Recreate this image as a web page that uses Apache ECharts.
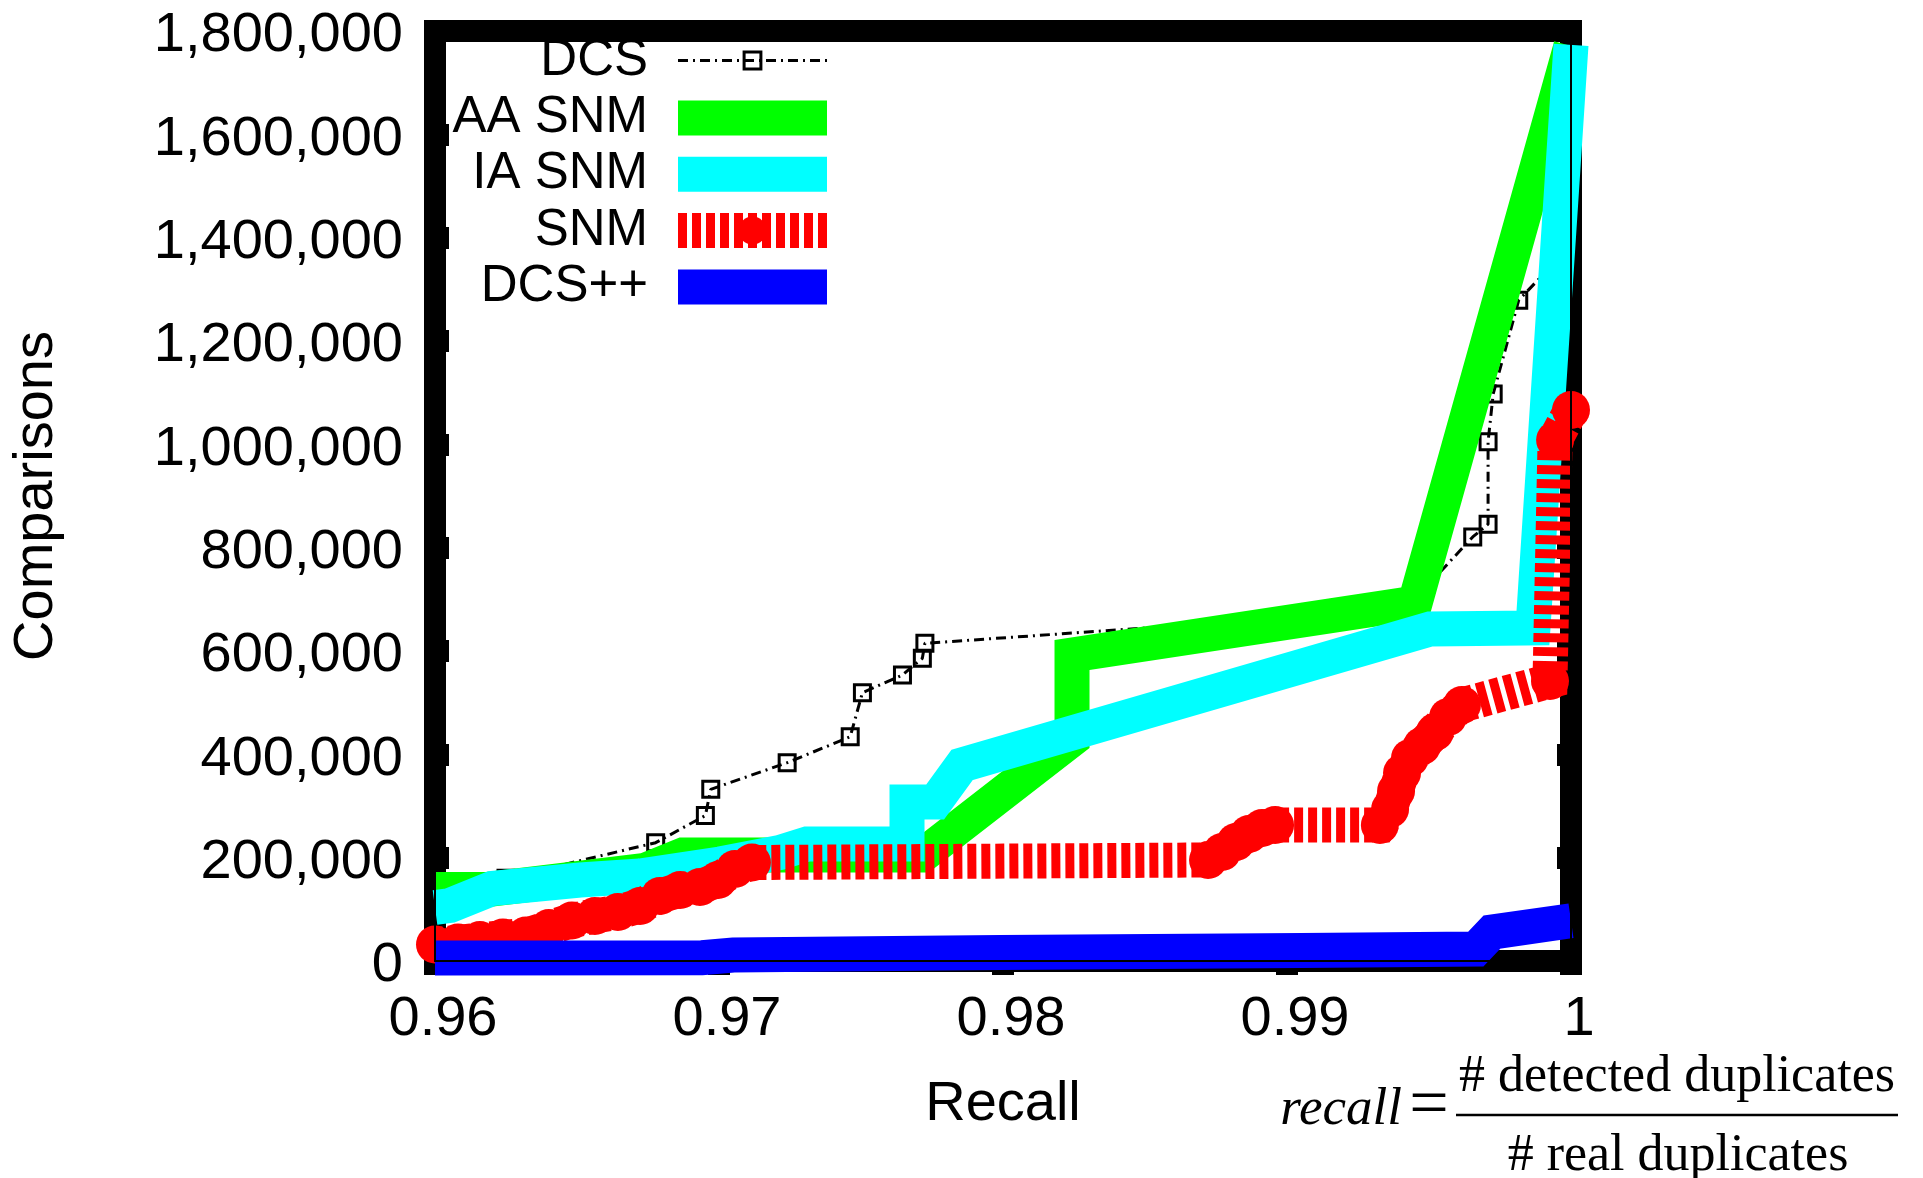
<!DOCTYPE html>
<html>
<head>
<meta charset="utf-8">
<title>Comparisons vs. Recall</title>
<script src="https://cdn.jsdelivr.net/npm/echarts@6/dist/echarts.min.js"></script>
<style>
  html, body { margin: 0; padding: 0; background: #fff; }
  #chart { width: 1923px; height: 1178px; }
</style>
</head>
<body>
<div id="chart"></div>
<script>
// Axis ticks
const recallTicks = [0.96, 0.97, 0.98, 0.99, 1];
const comparisonTicks = [0, 200000, 400000, 600000, 800000, 1000000, 1200000, 1400000, 1600000, 1800000];

// Series values: [recall, comparisons]
const dcs = [
  [0.96, 140000], [0.9625, 160000], [0.96777, 229000], [0.96952, 281600],
  [0.96971, 332300], [0.97240, 383800], [0.97462, 434100], [0.97505, 519300],
  [0.97646, 553600], [0.97716, 585900], [0.97725, 614900], [0.99415, 679400],
  [0.99654, 820700], [0.99708, 845400], [0.99708, 1004900], [0.99726, 1097400],
  [0.99816, 1279000], [0.99944, 1352900], [1.0, 1780000]
];
const aaSnm = [
  [0.96, 138400], [0.96187, 138400], [0.96739, 175200], [0.96873, 205200],
  [0.97718, 205200], [0.98243, 428900], [0.98243, 592300], [0.99451, 692900],
  [1.0, 1771000]
];
const iaSnm = [
  [0.96, 103500], [0.96053, 107400], [0.96201, 140300], [0.96511, 156800],
  [0.96722, 164500], [0.97004, 187700], [0.97215, 210000], [0.97310, 226400],
  [0.97662, 226400], [0.97662, 307700], [0.97761, 307700], [0.97856, 379400],
  [0.99504, 642600], [0.99866, 644500], [1.0, 1773000]
];
const snm = [
  [0.96, 31900], [0.96081, 35800], [0.96158, 40600], [0.96239, 45500],
  [0.96320, 49400], [0.96401, 63900], [0.96482, 78400], [0.96563, 87100],
  [0.96644, 94800], [0.96722, 106500], [0.96792, 125800], [0.96863, 137400],
  [0.96933, 143200], [0.96996, 156800], [0.97056, 178100], [0.97116, 190600],
  [0.98722, 195500], [0.98771, 211000], [0.98820, 230300], [0.98866, 245800],
  [0.98912, 257400], [0.98958, 263200],
  [0.99327, 263200], [0.99363, 294100], [0.99384, 328900], [0.99405, 363800],
  [0.99433, 392800], [0.99475, 416100], [0.99521, 443100], [0.99567, 472200],
  [0.99616, 495400], [0.99926, 541900], [0.99944, 1008400], [1.0, 1066500]
];
const dcsPlusPlus = [
  [0.96, 5800], [0.9694, 6500], [0.9705, 11500], [0.9799, 16500],
  [0.9905, 20500], [0.99665, 23000], [0.99722, 56000], [1.0, 78000]
];

const SANS = 'Liberation Sans';
const SERIF = 'Liberation Serif';

const xMin = recallTicks[0];
const xMax = recallTicks[recallTicks.length - 1];
const xStep = 0.01;
const yMin = comparisonTicks[0];
const yMax = comparisonTicks[comparisonTicks.length - 1];
const yStep = comparisonTicks[1] - comparisonTicks[0];

const gridBox = { left: 435, right: 352, top: 31, bottom: 217 };

const tickStyle = { inside: true, length: 14, lineStyle: { color: '#000', width: 22 } };

function recallLabel(v) {
  return String(parseFloat(v.toFixed(2)));
}
function comparisonLabel(v) {
  return Math.round(v).toLocaleString('en-US');
}

const chart = echarts.init(document.getElementById('chart'), null, { renderer: 'canvas' });

const legendText = { fontSize: 51, fontFamily: SANS, color: '#000', lineHeight: 50, padding: [0, 25, 0, 0] };

chart.setOption({
  animation: false,
  backgroundColor: '#fff',
  grid: [
    Object.assign({ show: true, borderColor: '#000', borderWidth: 22, backgroundColor: 'rgba(0,0,0,0)', z: 0, outerBoundsMode: 'none' }, gridBox),
    Object.assign({ show: true, borderColor: '#000', borderWidth: 2, backgroundColor: 'rgba(0,0,0,0)', z: 10, outerBoundsMode: 'none' }, gridBox)
  ],
  legend: [
    {
      z: -1, padding: 0, orient: 'vertical', align: 'right', right: 1094.5, top: 35,
      itemWidth: 149, itemHeight: 21, itemGap: 5, selectedMode: false,
      data: ['DCS'], textStyle: legendText,
      lineStyle: { width: 3 }, itemStyle: { borderWidth: 3 }
    },
    {
      z: -1, padding: 0, orient: 'vertical', align: 'right', right: 1078.5, top: 92.5,
      itemWidth: 149, itemHeight: 35, itemGap: 5.3, selectedMode: false,
      data: ['AA SNM', 'IA SNM', 'SNM', 'DCS++'], textStyle: legendText,
      lineStyle: { width: 35 }
    }
  ],
  xAxis: [
    {
      type: 'value', gridIndex: 0, position: 'bottom', min: xMin, max: xMax, interval: xStep,
      axisLine: { show: false }, splitLine: { show: false }, axisTick: tickStyle,
      axisLabel: { margin: 31, color: '#000', fontSize: 56, fontFamily: SANS, padding: [0, 0, 0, 16], formatter: recallLabel },
      name: 'Recall', nameLocation: 'middle', nameGap: 116,
      nameTextStyle: { color: '#000', fontSize: 56, fontFamily: SANS }
    },
    {
      type: 'value', gridIndex: 0, position: 'top', min: xMin, max: xMax, interval: xStep,
      axisLine: { show: false }, splitLine: { show: false }, axisTick: tickStyle,
      axisLabel: { show: false }
    },
    { type: 'value', gridIndex: 1, show: false, min: xMin, max: xMax }
  ],
  yAxis: [
    {
      type: 'value', gridIndex: 0, position: 'left', min: yMin, max: yMax, interval: yStep,
      axisLine: { show: false }, splitLine: { show: false }, axisTick: tickStyle,
      axisLabel: {
        margin: 32, color: '#000', fontSize: 56, fontFamily: SANS,
        verticalAlign: 'top', lineHeight: 10, formatter: comparisonLabel
      },
      name: 'Comparisons', nameLocation: 'middle', nameGap: 370,
      nameTextStyle: { color: '#000', fontSize: 56, fontFamily: SANS }
    },
    {
      type: 'value', gridIndex: 0, position: 'right', min: yMin, max: yMax, interval: yStep,
      axisLine: { show: false }, splitLine: { show: false }, axisTick: tickStyle,
      axisLabel: { show: false }
    },
    { type: 'value', gridIndex: 1, show: false, min: yMin, max: yMax }
  ],
  series: [
    {
      name: 'DCS', type: 'line', data: dcs, z: 1, clip: false,
      symbol: 'rect', symbolSize: 16, showSymbol: true,
      lineStyle: { color: '#000', width: 3, type: [10, 5, 2, 5] },
      itemStyle: { color: 'rgba(0,0,0,0)', borderColor: '#000', borderWidth: 3 },
      emphasis: { disabled: true }
    },
    {
      name: 'AA SNM', type: 'line', data: aaSnm, z: 2, clip: false, symbol: 'none',
      itemStyle: { color: '#00ff00' },
      lineStyle: { color: '#00ff00', width: 35, join: 'miter', miterLimit: 10 },
      emphasis: { disabled: true }
    },
    {
      name: 'IA SNM', type: 'line', data: iaSnm, z: 3, clip: false, symbol: 'none',
      itemStyle: { color: '#00ffff' },
      lineStyle: { color: '#00ffff', width: 35, join: 'miter', miterLimit: 10 },
      emphasis: { disabled: true }
    },
    {
      name: 'SNM', type: 'line', data: snm, z: 4, clip: false,
      symbol: 'circle', symbolSize: 38, showSymbol: true,
      itemStyle: { color: '#ff0000' },
      lineStyle: { color: '#ff0000', width: 35, type: [9, 5], join: 'miter', miterLimit: 10 },
      emphasis: { disabled: true }
    },
    {
      name: 'DCS++', type: 'line', data: dcsPlusPlus, z: 5, clip: false, symbol: 'none',
      itemStyle: { color: '#0000ff' },
      lineStyle: { color: '#0000ff', width: 35, join: 'miter', miterLimit: 10 },
      emphasis: { disabled: true }
    }
  ],
  graphic: [
    {
      type: 'text', x: 1402, y: 1110,
      style: { text: 'recall', fontSize: 53, fontStyle: 'italic', fontFamily: SERIF, fill: '#000', align: 'right', verticalAlign: 'middle' }
    },
    {
      type: 'text', x: 1429, y: 1108,
      style: { text: '=', fontSize: 70, fontFamily: SERIF, fill: '#000', align: 'center', verticalAlign: 'middle' }
    },
    {
      type: 'line', shape: { x1: 1456, y1: 1115, x2: 1898, y2: 1115 },
      style: { stroke: '#000', lineWidth: 2.5 }
    },
    {
      type: 'text', x: 1677, y: 1077,
      style: { text: '# detected duplicates', fontSize: 52, fontFamily: SERIF, fill: '#000', align: 'center', verticalAlign: 'middle' }
    },
    {
      type: 'text', x: 1678, y: 1156,
      style: { text: '# real duplicates', fontSize: 52, fontFamily: SERIF, fill: '#000', align: 'center', verticalAlign: 'middle' }
    }
  ]
});
</script>
</body>
</html>
